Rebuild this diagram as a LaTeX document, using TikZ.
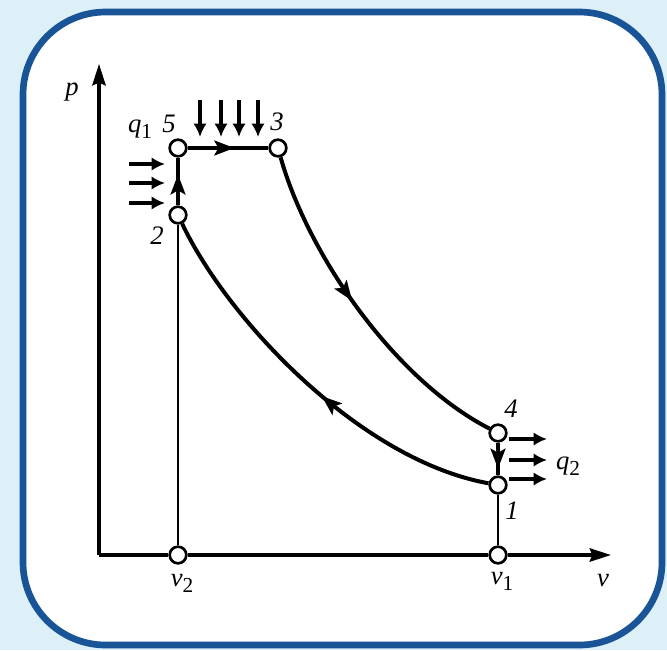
\documentclass[tikz,border=0pt]{standalone}
\usepackage{fontspec}
\setmainfont{Liberation Serif}
\usetikzlibrary{arrows.meta,decorations.markings}
\definecolor{bgblue}{RGB}{221,240,248}
\definecolor{frameblue}{RGB}{24,84,150}
\newcommand{\lbl}{\fontsize{20}{20}\selectfont\itshape}
\newcommand{\subn}[1]{\raisebox{-0.5ex}{\fontsize{16}{16}\selectfont\upshape #1}}
\begin{document}
\begin{tikzpicture}[x=0.75pt,y=-0.75pt,
  cyc/.style={line width=3pt},
  thinline/.style={line width=1.7pt},
  axisline/.style={line width=2.4pt},
  statept/.style={circle,draw,fill=white,line width=2pt,inner sep=0pt,minimum size=12.5pt},
  lab/.style={inner sep=0pt,font=\lbl},
  heat/.style={line width=3pt,-{Latex[length=10pt,width=10pt]}},
  midarrow/.style={postaction={decorate},decoration={markings,mark=at position #1 with {\arrow{Stealth[length=15pt,width=11pt,inset=3pt]}}}}
]
\useasboundingbox (0,0) rectangle (667,650);
\fill[bgblue] (0,0) rectangle (667,650);
\draw[frameblue,line width=5pt,fill=white,rounded corners=62pt] (23,12) rectangle (662,645);

% nodes
\coordinate (O) at (99,555);
\coordinate (yend) at (99,64);
\coordinate (xend) at (611,555);
\node[statept] (n5) at (178,148) {};
\node[statept] (n3) at (278,148) {};
\node[statept] (n2) at (178,215) {};
\node[statept] (n4) at (498,433) {};
\node[statept] (n1) at (498,485) {};
\node[statept] (a2) at (178,555) {};
\node[statept] (a1) at (498,555) {};

% axes
\draw[axisline,-{Stealth[length=16pt,width=10pt,inset=2pt]}] (O) -- (yend);
\draw[axisline] (O) -- (a2);
\draw[axisline] (a2) -- (a1);
\draw[axisline,-{Stealth[length=16pt,width=10pt,inset=2pt]}] (a1) -- (xend);

% vertical lines
\draw[thinline] (a2) -- (n2);
\draw[thinline] (a1) -- (n1);

% cycle
\draw[cyc,midarrow=0.65] (n2) -- (n5);
\draw[cyc,midarrow=0.58] (n5) -- (n3);
\draw[cyc,midarrow=0.46] (n3) .. controls (308,255) and (395,380) .. (n4);
\draw[cyc,midarrow=0.8] (n4) -- (n1);
\draw[cyc,midarrow=0.46] (n1) .. controls (360,460) and (228,320) .. (n2);

% heat arrows
\foreach \x in {200,221,239,258} \draw[heat] (\x,100) -- (\x,137);
\foreach \y in {164,183,203} \draw[heat] (129,\y) -- (165,\y);
\foreach \y in {439,460,479} \draw[heat] (509,\y) -- (547,\y);

% labels
\node[lab] (lp) at (72,92) {p};
\node[lab] (lq1) at (140,129) {q\subn{1}};
\node[lab] (l5) at (169,124) {5};
\node[lab] (l3) at (277,122) {3};
\node[lab] (l2) at (157,236) {2};
\node[lab] (l4) at (511,409) {4};
\node[lab] (l1) at (512,511) {1};
\node[lab] (lq2) at (568,466) {q\subn{2}};
\node[lab] (lv2) at (182,583) {v\subn{2}};
\node[lab] (lv1) at (502,581) {v\subn{1}};
\node[lab] (lv) at (603,581) {v};
\end{tikzpicture}
\end{document}
